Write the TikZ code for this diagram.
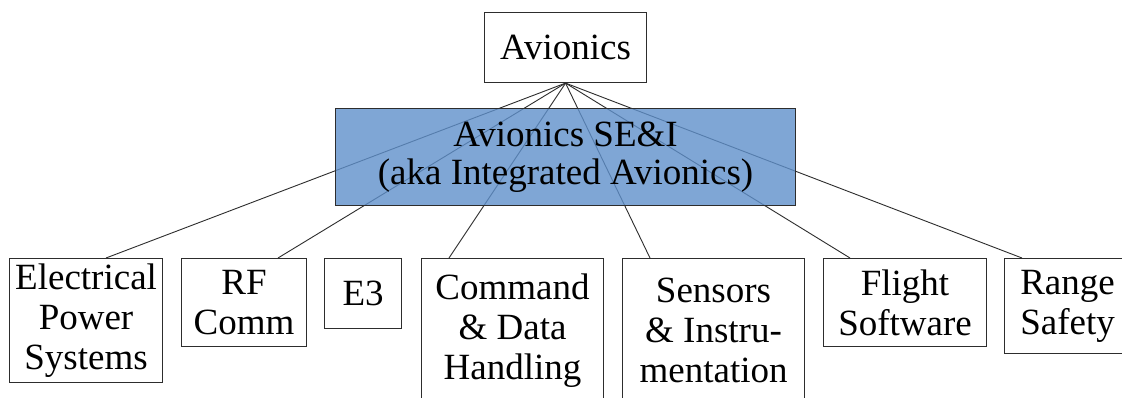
\documentclass[tikz,border=0pt]{standalone}
\usepackage{fontspec}
\setmainfont{Liberation Serif}
\definecolor{seiblue}{RGB}{95,144,203}
\definecolor{edge}{RGB}{45,45,45}
\begin{document}
\begin{tikzpicture}[x=1pt,y=-1pt,
  box/.style={draw=edge,line width=1.1pt,fill=white,inner sep=0pt,align=center,
    font=\fontsize{37}{40}\selectfont,anchor=north west},
  link/.style={draw=edge,line width=0.9pt}]
\useasboundingbox (0,0) rectangle (1122,397);
\clip (0,0) rectangle (1122,397);
\fill[white] (0,0) rectangle (1122,397);
% top node
\node[box,minimum width=162pt,minimum height=70pt] (av) at (484,12) {Avionics};
% bottom nodes
\node[box,minimum width=153pt,minimum height=124pt] (eps) at (9,258) {Electrical\\Power\\Systems};
\node[box,minimum width=125pt,minimum height=88pt] (rf) at (181,258) {RF\\Comm};
\node[box,minimum width=77pt,minimum height=70pt] (e3) at (324,258) {E3};
\node[box,minimum width=182pt,minimum height=144pt] (cdh) at (421,258) {Command\\\&~Data\\Handling};
\node[box,minimum width=182pt,minimum height=144pt] (si) at (622,258) {Sensors\\\&~Instru-\\mentation};
\node[box,minimum width=163pt,minimum height=88pt] (fsw) at (823,258) {Flight\\Software};
\node[box,minimum width=126pt,minimum height=95pt] (rs) at (1004,258) {Range\\Safety};
% connectors
\draw[link] (av.south) -- ([xshift=97pt]eps.north west);
\draw[link] (av.south) -- ([xshift=97pt]rf.north west);
\draw[link] (av.south) -- ([xshift=28pt]cdh.north west);
\draw[link] (av.south) -- ([xshift=28pt]si.north west);
\draw[link] (av.south) -- ([xshift=27pt]fsw.north west);
\draw[link] (av.south) -- ([xshift=18pt]rs.north west);
% SE&I box on top, semi-transparent
\node[draw=edge,line width=1.1pt,fill=seiblue,fill opacity=0.8,text opacity=1,
  inner sep=0pt,align=center,font=\fontsize{37}{38}\selectfont,anchor=north west,
  minimum width=460pt,minimum height=97pt] (sei) at (335,108)
  {Avionics SE\&I\\(aka Integrated Avionics)};
\end{tikzpicture}
\end{document}
